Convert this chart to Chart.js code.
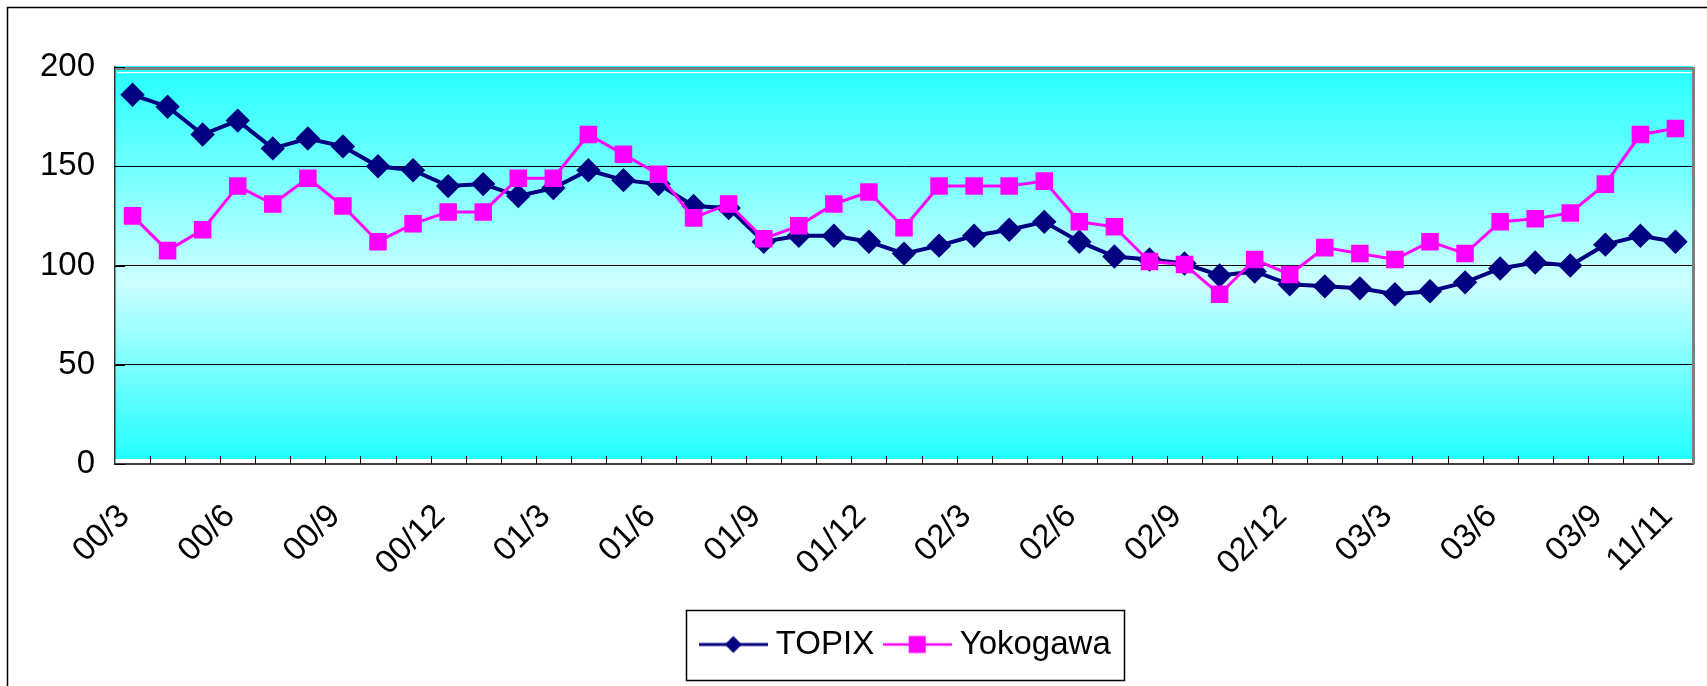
<!DOCTYPE html>
<html>
<head>
<meta charset="utf-8">
<title>TOPIX / Yokogawa</title>
<script src="https://cdn.jsdelivr.net/npm/chart.js@4.4.1/dist/chart.umd.min.js"></script>
<style>
    html, body { margin: 0; padding: 0; background: #fff; }
    #wrap { width: 1707px; height: 686px; }
</style>
</head>
<body>
<div id="wrap"><canvas id="stockChart" width="1707" height="686"></canvas></div>
<script>
// Meses (00/3 .. 03/10) y el ultimo punto "11/11"
const months = [
    '00/3', '00/4', '00/5', '00/6', '00/7', '00/8', '00/9', '00/10', '00/11', '00/12',
    '01/1', '01/2', '01/3', '01/4', '01/5', '01/6', '01/7', '01/8', '01/9', '01/10', '01/11', '01/12',
    '02/1', '02/2', '02/3', '02/4', '02/5', '02/6', '02/7', '02/8', '02/9', '02/10', '02/11', '02/12',
    '03/1', '03/2', '03/3', '03/4', '03/5', '03/6', '03/7', '03/8', '03/9', '03/10',
    '11/11'
];

const topix = [
    186, 180, 166, 173, 159, 164, 160, 150, 148, 140,
    141, 135, 139, 148, 143, 141, 130, 129, 112, 115,
    115, 112, 106, 110, 115, 118, 122, 112, 104.5, 103,
    101, 95, 97, 90.5, 89.5, 88.5, 85.5, 87, 91.5, 98.5,
    101.5, 100, 110.5, 115, 112
];

const yokogawa = [
    125, 107.5, 118, 140, 131, 144, 130, 112, 121, 127,
    127, 144, 144, 166, 156, 146, 124, 131, 113.5, 120,
    131, 137, 119, 140, 140, 140, 142.5, 122, 119.5, 102,
    100.5, 85.5, 103, 95.5, 109, 106, 103, 112, 106, 122,
    123.5, 126.5, 141, 166, 169
];

const yMin = 0;
const yMax = 200;
const yStep = 50;

const NAVY = '#000080';
const MAGENTA = '#FF00FF';
const FONT = '"Liberation Sans", Arial, sans-serif';
const FONT_SIZE = 33;

Chart.defaults.font.family = FONT;
Chart.defaults.color = '#000';

// Iconos de leyenda: linea + marcador, como en Excel
function makeLegendIcon(color, lineWidth, marker) {
    const c = document.createElement('canvas');
    c.width = 69;
    c.height = 22;
    const g = c.getContext('2d');
    g.strokeStyle = color;
    g.lineWidth = lineWidth;
    g.beginPath();
    g.moveTo(0, 11);
    g.lineTo(69, 11);
    g.stroke();
    g.fillStyle = color;
    g.beginPath();
    if (marker === 'diamond') {
        g.moveTo(34.5, 2.5);
        g.lineTo(43, 11);
        g.lineTo(34.5, 19.5);
        g.lineTo(26, 11);
        g.closePath();
    } else {
        g.rect(26, 2.5, 17, 17);
    }
    g.fill();
    return c;
}

const legendIcons = [
    makeLegendIcon(NAVY, 3, 'diamond'),
    makeLegendIcon(MAGENTA, 2.5, 'square')
];

// Fondo degradado, marco del area y marcas de los ejes
const plotFrame = {
    id: 'plotFrame',
    beforeDraw(chart) {
        const { ctx, chartArea: a } = chart;
        ctx.save();
        // marco exterior
        ctx.strokeStyle = '#000';
        ctx.lineWidth = 1.5;
        ctx.beginPath();
        ctx.moveTo(7.5, chart.height);
        ctx.lineTo(7.5, 7.5);
        ctx.lineTo(chart.width, 7.5);
        ctx.stroke();
        // degradado cian
        const grad = ctx.createLinearGradient(0, a.top, 0, a.bottom - 5);
        grad.addColorStop(0, '#22FFFF');
        grad.addColorStop(0.55, '#CCFFFF');
        grad.addColorStop(1, '#22FFFF');
        ctx.fillStyle = grad;
        ctx.fillRect(a.left, a.top - 1, a.right - a.left, a.bottom - 5 - a.top + 1);
        ctx.restore();
    },
    beforeDatasetsDraw(chart) {
        const { ctx, chartArea: a } = chart;
        const xs = chart.scales.x;
        const ys = chart.scales.y;
        ctx.save();
        // borde superior gris y linea blanca
        ctx.fillStyle = '#808080';
        ctx.fillRect(a.left, a.top, a.right - a.left + 2, 3);
        ctx.fillRect(a.right - 1, a.top, 3, a.bottom - a.top);
        ctx.fillStyle = '#fff';
        ctx.fillRect(a.left + 2, a.top + 5, a.right - a.left - 3, 1.2);
        // marcas del eje x hacia dentro, entre categorias
        ctx.strokeStyle = '#000';
        ctx.lineWidth = 1;
        ctx.beginPath();
        for (let i = 1; i < months.length; i++) {
            const x = Math.round((xs.getPixelForValue(i - 1) + xs.getPixelForValue(i)) / 2) + 0.5;
            ctx.moveTo(x, a.bottom - 8);
            ctx.lineTo(x, a.bottom);
        }
        // marcas del eje y hacia dentro
        ys.ticks.forEach(t => {
            const y = Math.round(ys.getPixelForValue(t.value)) + 0.5;
            ctx.moveTo(a.left, y);
            ctx.lineTo(a.left + 10, y);
        });
        ctx.stroke();
        ctx.restore();
    },
    afterLayout(chart) {
        // centrar la leyenda sobre el area del grafico
        const lg = chart.legend;
        if (!lg) return;
        lg.left = chart.chartArea.left + 10;
        lg.right = chart.chartArea.right;
        lg.width = lg.right - lg.left;
    },
    afterDraw(chart) {
        const lg = chart.legend;
        if (!lg || !lg.lineWidths) return;
        const { ctx } = chart;
        const pad = lg.options.labels.padding;
        const start = (lg.left + pad + lg.right - lg.lineWidths[0]) / 2;
        const end = start + lg.lineWidths[0] - pad;
        const cy = lg.top + pad + FONT_SIZE / 2;
        ctx.save();
        ctx.strokeStyle = '#000';
        ctx.lineWidth = 1.5;
        ctx.strokeRect(Math.round(start - 21) + 0.5, Math.round(cy - 34.5) + 0.5,
            Math.round(end + 14 - (start - 21)), 70);
        ctx.restore();
    }
};

new Chart(document.getElementById('stockChart').getContext('2d'), {
    type: 'line',
    data: {
        labels: months,
        datasets: [
            {
                label: 'TOPIX',
                data: topix,
                borderColor: NAVY,
                backgroundColor: NAVY,
                borderWidth: 4,
                pointStyle: 'rectRot',
                pointRadius: 12.2,
                pointBackgroundColor: NAVY,
                pointBorderWidth: 0,
                tension: 0,
                fill: false,
                order: 1
            },
            {
                label: 'Yokogawa',
                data: yokogawa,
                borderColor: MAGENTA,
                backgroundColor: MAGENTA,
                borderWidth: 3,
                pointStyle: 'rect',
                pointRadius: 12.4,
                pointBackgroundColor: MAGENTA,
                pointBorderWidth: 0,
                tension: 0,
                fill: false,
                order: 0
            }
        ]
    },
    options: {
        responsive: false,
        animation: false,
        devicePixelRatio: 1,
        layout: {
            padding: { left: 0, right: 14, top: 67, bottom: 15 }
        },
        scales: {
            x: {
                offset: true,
                grid: { display: false },
                border: { display: true, color: '#404040', width: 2 },
                ticks: {
                    autoSkip: false,
                    minRotation: 45,
                    maxRotation: 45,
                    padding: 25,
                    labelOffset: -8,
                    font: { size: FONT_SIZE },
                    color: '#000',
                    callback: function (value, index) {
                        if (index % 3 === 0 || index === months.length - 1) {
                            return months[index];
                        }
                        return '';
                    }
                },
                afterFit(scale) {
                    // etiquetas giradas: sin margen lateral extra
                    scale.height = 147;
                    scale.paddingLeft = 0;
                    scale.paddingRight = 0;
                }
            },
            y: {
                min: yMin,
                max: yMax,
                ticks: {
                    stepSize: yStep,
                    padding: 20,
                    font: { size: FONT_SIZE },
                    color: '#000'
                },
                grid: {
                    drawTicks: false,
                    lineWidth: 1,
                    color: ctx => (ctx.tick && (ctx.tick.value === yMin || ctx.tick.value === yMax))
                        ? 'rgba(0,0,0,0)' : '#000'
                },
                border: { display: true, color: '#333', width: 1.5 },
                afterFit(scale) {
                    scale.width = 115;
                    scale.paddingTop = 0;
                    scale.paddingBottom = 0;
                }
            }
        },
        plugins: {
            legend: {
                position: 'bottom',
                labels: {
                    usePointStyle: true,
                    pointStyleWidth: 52,
                    padding: 17,
                    font: { size: FONT_SIZE },
                    color: '#000',
                    sort: (a, b) => a.datasetIndex - b.datasetIndex,
                    generateLabels(chart) {
                        const items = Chart.defaults.plugins.legend.labels.generateLabels(chart);
                        items.forEach(it => { it.pointStyle = legendIcons[it.datasetIndex]; });
                        return items;
                    }
                },
                onClick: null
            },
            tooltip: { enabled: false }
        }
    },
    plugins: [plotFrame]
});
</script>
</body>
</html>
